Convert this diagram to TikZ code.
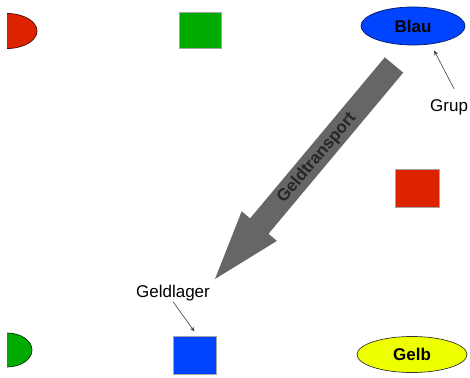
\documentclass[tikz,border=0pt]{standalone}
\usepackage{fontspec}
\setmainfont{Liberation Sans}
\usetikzlibrary{shapes.geometric,arrows.meta}
\definecolor{cRed}{HTML}{DD2200}
\definecolor{cGreen}{HTML}{00AA00}
\definecolor{cBlue}{HTML}{0044FF}
\definecolor{cYellow}{HTML}{EEFF00}
\definecolor{cGray}{HTML}{666666}
\tikzset{
  sq/.style={draw=black!35, line width=0.8pt, inner sep=0pt},
  ell/.style={ellipse, draw=black!80, line width=0.7pt, inner sep=0pt, font=\fontsize{17}{20}\selectfont\bfseries},
  lbl/.style={inner sep=0pt, font=\fontsize{17}{20}\selectfont},
  pointer/.style={draw=black!75, line width=0.6pt, -{Stealth[length=5pt,width=4pt]}},
}
\begin{document}
\begin{tikzpicture}[x=1pt,y=-1pt]
\useasboundingbox (0,0) rectangle (470,377);
% clipped half ellipses at the left edge
\begin{scope}
  \clip (7,0) rectangle (120,377);
  \draw[fill=cRed, draw=black!70!cRed, line width=0.7pt] (7,31) ellipse [x radius=30, y radius=17.5];
  \draw[fill=cGreen, draw=black!70!cGreen, line width=0.7pt] (7,350) ellipse [x radius=25, y radius=17];
\end{scope}
% squares
\node[sq, fill=cGreen, minimum width=42pt, minimum height=36pt] (gsq) at (200,30) {};
\node[sq, fill=cRed, minimum width=44pt, minimum height=38pt] (rsq) at (417,188) {};
\node[sq, fill=cBlue, minimum width=43pt, minimum height=38pt] (bsq) at (194.5,355) {};
% ellipses
\node[ell, fill=cBlue, draw=black!60!cBlue, minimum width=104pt, minimum height=38pt] (blau) at (413,26) {Blau};
\node[ell, fill=cYellow, minimum width=110pt, minimum height=36pt] (gelb) at (412,354.5) {Gelb};
% labels
\node[lbl, anchor=base west] (grup) at (430,111) {Grup};
\node[lbl, anchor=base] (lager) at (173,297) {Geldlager};
% pointers
\draw[pointer] ([shift={(5pt,10pt)}]grup.north) -- ([shift={(21pt,-5pt)}]blau.south);
\draw[pointer] ([yshift=-1pt]lager.south) -- ([yshift=4pt]bsq.north);
% big arrow
\fill[cGray] (384.8,57.3) -- (403.2,72.7) -- (268.5,233.8) -- (276.9,240.9)
  -- (215,279) -- (241.7,211.3) -- (250.1,218.4) -- cycle;
\node[lbl, font=\fontsize{17}{20}\selectfont\bfseries, text=black!85, rotate=50] (transport) at (317,158) {Geldtransport};
\end{tikzpicture}
\end{document}
